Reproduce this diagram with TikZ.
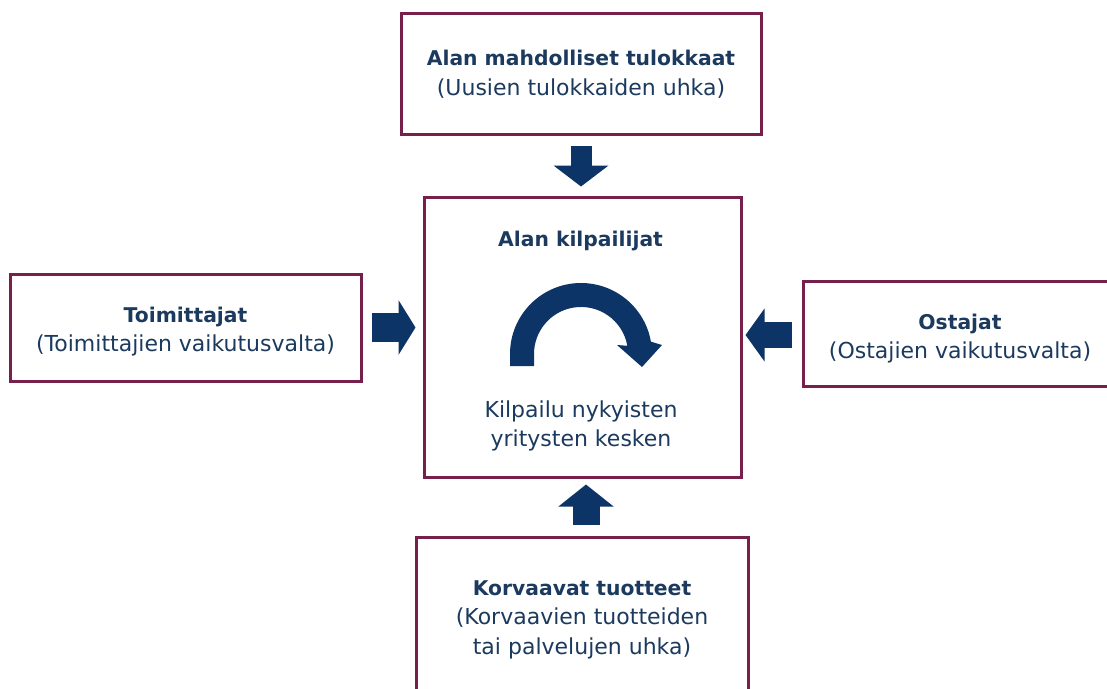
\documentclass[tikz,border=0pt]{standalone}
\usepackage{fontspec}
\setmainfont{DejaVu Sans}
\usetikzlibrary{arrows.meta,calc}
\definecolor{boxline}{HTML}{76204B}
\definecolor{navytext}{HTML}{1B3A5E}
\definecolor{arrowfill}{HTML}{0D3466}
\newcommand{\hd}[1]{{\fontsize{20.3}{29.5}\selectfont\bfseries #1}}
\begin{document}
\begin{tikzpicture}[x=1pt,y=1pt,
  box/.style={draw=boxline, line width=3pt, fill=white, inner sep=0pt},
  lbl/.style={inner sep=0pt, align=center, text=navytext, font=\fontsize{22}{29.5}\selectfont},
  bigarrow/.style={draw=arrowfill, line cap=butt}
]
\useasboundingbox (0,0) rectangle (1107,-688);
\clip (0,0) rectangle (1107,-688);
\fill[white] (0,0) rectangle (1107,-688);

\node[box, minimum width=360pt, minimum height=121pt] (top) at (581,-73.5) {};
\node[box, minimum width=317pt, minimum height=280pt] (center) at (582.5,-337) {};
\node[box, minimum width=351pt, minimum height=107pt] (left) at (185.5,-327.5) {};
\node[box, minimum width=314pt, minimum height=105pt] (right) at (960,-333.5) {};
\node[box, minimum width=332pt, minimum height=158pt] (bottom) at (582,-616) {};

\node[lbl] (toptxt) at ($(top.center)+(0,-0.5)$)
  {\hd{Alan mahdolliset tulokkaat}\\(Uusien tulokkaiden uhka)};
\node[lbl] (lefttxt) at ($(left.center)+(0,-4)$)
  {\hd{Toimittajat}\\(Toimittajien vaikutusvalta)};
\node[lbl] (righttxt) at ($(right.center)+(0,-5)$)
  {\hd{Ostajat}\\(Ostajien vaikutusvalta)};
\node[lbl] (bottomtxt) at ($(bottom.center)+(0,-3.5)$)
  {\hd{Korvaavat tuotteet}\\(Korvaavien tuotteiden\\tai palvelujen uhka)};

\node[lbl] (ctitle) at (580.5,-241) {\hd{Alan kilpailijat}};
\node[lbl] (ctext) at (581,-426) {Kilpailu nykyisten\\yritysten kesken};

% curved arrow
\fill[arrowfill] (510,-366) -- (510,-354) arc[start angle=180, end angle=10, radius=71]
  -- (662,-345) -- (642,-367) -- (617,-345) -- (627.3,-345.8)
  arc[start angle=10, end angle=180, radius=47] -- (534,-366) -- cycle;

% thick arrows
\draw[bigarrow, line width=21pt, -{Triangle[width=54pt,length=21pt]}]
  ($(top.south)+(0,-10)$) -- ($(top.south |- center.north)+(0,9)$);
\draw[bigarrow, line width=27pt, -{Triangle[width=54pt,length=22pt]}]
  ($(bottom.north)+(4,11)$) -- ($(bottom.north |- center.south)+(4,-6)$);
\draw[bigarrow, line width=29pt, -{Triangle[width=54pt,length=17pt]}]
  ($(left.east)+(9,0)$) -- ($(center.west |- left.east)+(-7,0)$);
\draw[bigarrow, line width=26pt, -{Triangle[width=52pt,length=19pt]}]
  ($(right.west)+(-10,-1.5)$) -- ($(center.east |- right.west)+(3,-1.5)$);
\end{tikzpicture}
\end{document}
